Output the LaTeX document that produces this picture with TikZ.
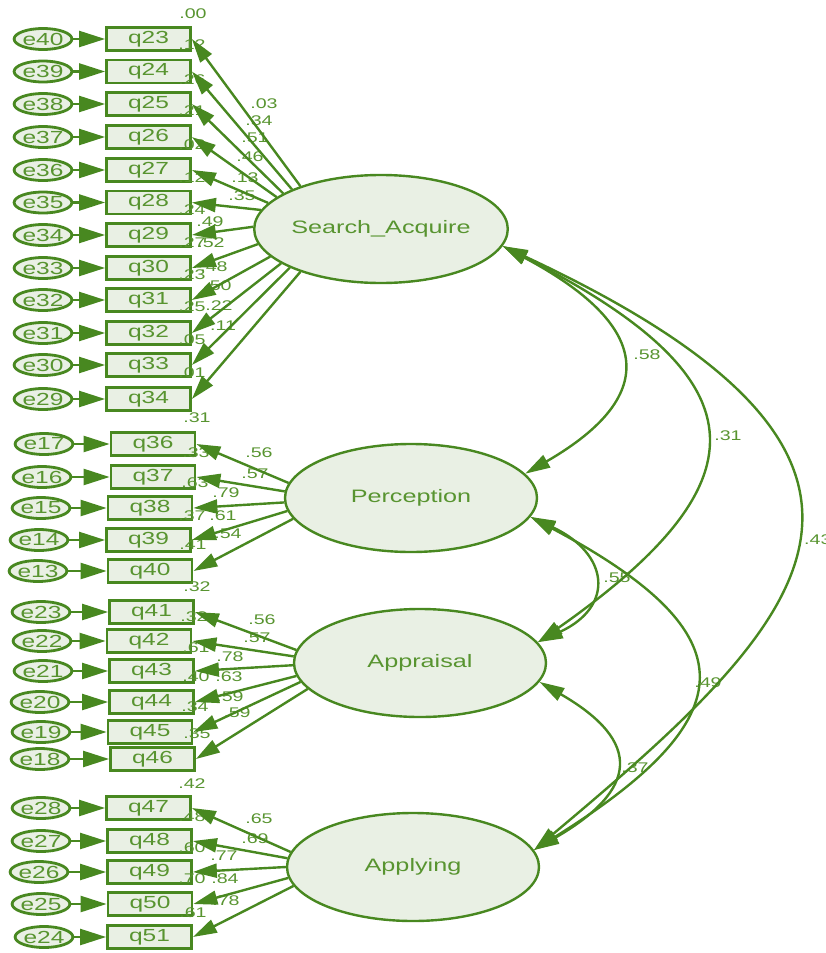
\documentclass[tikz,border=0pt]{standalone}
\usepackage{fontspec}
\newfontfamily\amos[FakeStretch=1.4]{Liberation Sans}
\usetikzlibrary{arrows.meta,shapes.geometric}
\definecolor{amosline}{RGB}{72,136,32}
\definecolor{amostext}{RGB}{88,148,48}
\definecolor{amosfill}{RGB}{233,240,228}
\tikzset{
  obs/.style={draw=amosline, line width=2.8pt, fill=amosfill, minimum width=84pt, minimum height=23pt, inner sep=0pt, font=\amos\fontsize{17.5}{18}\selectfont, text=amostext},
  err/.style={ellipse, draw=amosline, line width=2.8pt, fill=amosfill, minimum width=53pt, minimum height=21pt, inner sep=0pt, font=\amos\fontsize{17.5}{18}\selectfont, text=amostext},
  lat/.style={ellipse, draw=amosline, line width=2.4pt, fill=amosfill, minimum width=252pt, minimum height=108pt, inner sep=0pt, font=\amos\fontsize{18}{20}\selectfont, text=amostext},
  num/.style={font=\amos\fontsize{14}{14}\selectfont, text=amostext, inner sep=0pt},
  reg/.style={draw=amosline, line width=2.4pt, -{Triangle[length=24pt,width=14pt]}},
  errarr/.style={draw=amosline, line width=2.4pt, -{Triangle[length=26pt,width=16pt]}},
  cov/.style={draw=amosline, line width=2.4pt, {Triangle[length=25pt,width=14pt]}-{Triangle[length=25pt,width=14pt]}},
}
\begin{document}
\begin{tikzpicture}[x=1pt,y=1pt]
\useasboundingbox (0,0) rectangle (825,-953);
% latent variables
\node[lat] (SA) at (381,-229) {Search\_Acquire};
\node[lat] (PE) at (411,-498) {Perception};
\node[lat] (AP) at (420,-663) {Appraisal};
\node[lat] (AY) at (413,-867) {Applying};
% observed variables and errors
\foreach \q/\e/\bx/\ex/\y in {23/40/148.5/43/39, 24/39/148.5/43/71.5, 25/38/148.5/43/104, 26/37/148.5/43/137, 27/36/148.5/43/170, 28/35/148.5/43/202.5, 29/34/148.5/43/235, 30/33/148.5/43/268, 31/32/148.5/43/300, 32/31/148.5/43/333, 33/30/148.5/43/365, 34/29/148.5/43/399,
  36/17/153/44/444, 37/16/153/42/477, 38/15/150/41/508, 39/14/148.5/39/540, 40/13/150/38/571,
  41/23/151.5/41/612, 42/22/149/42/641, 43/21/151.5/43/671, 44/20/151.5/40/702, 45/19/150/41/732, 46/18/152.5/40/759,
  47/28/148.5/41/808, 48/27/149.5/41/841, 49/26/149.5/39/872, 50/25/150/41/904, 51/24/149.5/44/937}
{
  \node[obs] (q\q) at (\bx,-\y) {q\q};
  \node[err] (e\e) at (\ex,-\y) {e\e};
}
% squared multiple correlations
\foreach \n/\t/\x/\y in {r23/.00/193/14, r24/.12/192/45, r25/.26/192/80, r26/.21/192/111, r27/.02/192/145, r28/.12/192/178, r29/.24/192/210, r30/.27/192/243, r31/.23/192/275, r32/.25/192/307, r33/.05/192/340, r34/.01/192/373,
  r36/.31/197/418, r37/.33/196/453, r38/.63/195/483, r39/.37/192/516, r40/.41/193/545,
  r41/.32/197/587, r42/.32/194/617, r43/.61/196/648, r44/.40/196/677, r45/.34/195/707, r46/.35/197/734,
  r47/.42/192/784, r48/.48/192/817, r49/.60/192/848, r50/.70/192/879, r51/.61/193/913}
{
  \node[num] (\n) at (\x,-\y) {\t};
}
% regression weights
\foreach \n/\t/\x/\y in {w23/.03/264/104, w24/.34/259/121, w25/.51/255/138, w26/.46/250/157, w27/.13/245/178, w28/.35/242/196, w29/.49/210/222, w30/.52/211/243, w31/.48/214/267, w32/.50/218/286, w33/.22/219/306, w34/.11/223/326,
  w36/.56/259/453, w37/.57/255/474, w38/.79/226/493, w39/.61/223/516, w40/.54/228/534,
  w41/.56/262/620, w42/.57/257/638, w43/.78/230/657, w44/.63/229/677, w45/.59/230/697, w46/.59/237/713,
  w47/.65/259/819, w48/.69/255/839, w49/.77/224/856, w50/.84/225/879, w51/.78/226/901}
{
  \node[num] (\n) at (\x,-\y) {\t};
}
% correlations
\node[num] (c58) at (647,-355) {.58};
\node[num] (c31) at (728,-436) {.31};
\node[num, anchor=west] (c43) at (804,-540) {.43};
\node[num] (c55) at (617,-578) {.55};
\node[num] (c49) at (708,-683) {.49};
\node[num] (c37) at (635,-768) {.37};
% error arrows
\foreach \q/\e in {23/40,24/39,25/38,26/37,27/36,28/35,29/34,30/33,31/32,32/31,33/30,34/29,36/17,37/16,38/15,39/14,40/13,41/23,42/22,43/21,44/20,45/19,46/18,47/28,48/27,49/26,50/25,51/24}
{
  \draw[errarr] (e\e) -- (q\q);
}
% loadings
\foreach \q/\a in {23/152,24/156,25/160,26/163.5,27/167,28/171,29/179.5,30/187,31/194,32/199,33/203,34/208}
  \draw[reg] (SA.\a) -- (q\q.east);
\foreach \q/\a in {36/173,37/177.7,38/182.7,39/186.3,40/190.1}
  \draw[reg] (PE.\a) -- (q\q.east);
\foreach \q/\a in {41/174.2,42/177.3,43/181.8,44/186.3,45/189.5,46/193.3}
  \draw[reg] (AP.\a) -- (q\q.east);
\foreach \q/\a in {47/173,48/176.3,49/180,50/185,51/189.2}
  \draw[reg] (AY.\a) -- (q\q.east);
% covariances
\draw[cov] (SA.-8) .. controls +(-28:165) and +(30:160) .. (PE.12);
\draw[cov] (SA.-8) .. controls +(-27:287) and +(35:287) .. (AP.10);
\draw[cov] (SA.-8) .. controls +(-25:515) and +(40:353) .. (AY.8);
\draw[cov] (PE.-9) .. controls +(-25:86) and +(25:86) .. (AP.10);
\draw[cov] (PE.-9) .. controls +(-28:250) and +(32:250) .. (AY.8);
\draw[cov] (AP.-9) .. controls +(-30:120) and +(30:120) .. (AY.8);
\end{tikzpicture}
\end{document}
